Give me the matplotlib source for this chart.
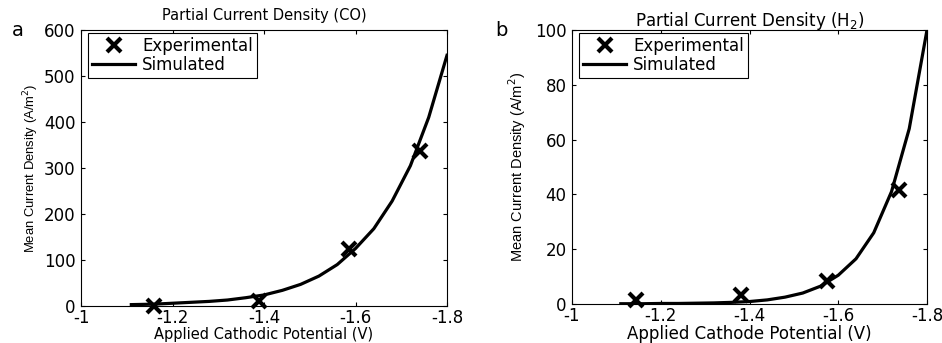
import matplotlib.pyplot as plt

plt.rcParams['font.family'] = ['DejaVu Sans']
plt.rcParams['mathtext.fontset'] = 'dejavusans'

# experimental points
exp_v = [-1.16, -1.39, -1.585, -1.74]
exp_co = [0, 10, 123, 338]
exp_v_h2 = [-1.145, -1.38, -1.575, -1.738]
exp_h2 = [1.6, 3.4, 8.5, 41.5]

# simulated curves
sim_v = [-1.11, -1.16, -1.20, -1.24, -1.28, -1.32, -1.36, -1.40, -1.44,
         -1.48, -1.52, -1.56, -1.60, -1.64, -1.68, -1.72, -1.76, -1.80]
sim_co = [3, 4, 6, 8, 10, 13, 18, 24, 34,
          47, 65, 90, 125, 168, 228, 305, 410, 545]
sim_h2 = [0.1, 0.1, 0.2, 0.2, 0.3, 0.4, 0.6, 0.9, 1.5,
          2.5, 4.0, 6.5, 10.5, 16.5, 26, 41, 64, 100]

x_ticks = [-1, -1.2, -1.4, -1.6, -1.8]
x_labels = ['-1', '-1.2', '-1.4', '-1.6', '-1.8']

narrow = ['Liberation Sans Narrow', 'Liberation Sans', 'DejaVu Sans']


def setup_axis(ax, ymax, yticks):
    ax.set_xlim(-1, -1.8)
    ax.set_ylim(0, ymax)
    ax.set_xticks(x_ticks)
    ax.set_xticklabels(x_labels)
    ax.set_yticks(yticks)
    ax.tick_params(direction='in', top=True, right=True, length=3,
                   labelsize=12, width=0.8)
    ax.tick_params(axis='x', pad=2)
    ax.tick_params(axis='y', pad=4)
    for s in ax.spines.values():
        s.set_linewidth(0.8)


def draw(ax, ev, ey, sy):
    ax.plot(ev, ey, 'x', color='black', markersize=10, markeredgewidth=3,
            label='Experimental', clip_on=False, zorder=3)
    ax.plot(sim_v, sy, '-', color='black', linewidth=2.3, label='Simulated')
    leg = ax.legend(loc='upper left', bbox_to_anchor=(0.019, 0.99),
                    borderaxespad=0, fontsize=12, handlelength=2.6,
                    handletextpad=0.4, fancybox=False, edgecolor='black',
                    framealpha=1, borderpad=0.25, labelspacing=0.08)
    leg.get_frame().set_linewidth(0.8)


fig = plt.figure(figsize=(9.42, 3.43), dpi=100)

ax1 = fig.add_axes([81 / 942, 1 - 306 / 343, 366 / 942, 276 / 343])
draw(ax1, exp_v, exp_co, sim_co)
setup_axis(ax1, 600, [0, 100, 200, 300, 400, 500, 600])
ax1.set_title('Partial Current Density (CO)', fontsize=10.5, pad=7)
ax1.set_xlabel('Applied Cathodic Potential (V)', fontsize=10.5, va='center')
ax1.xaxis.set_label_coords(0.5, (306 - 334) / 276)
ax1.set_ylabel('Mean Current Density (A/m$^2$)', fontsize=9.4,
               family=narrow, labelpad=2)

ax2 = fig.add_axes([572 / 942, 1 - 304 / 343, 355 / 942, 274 / 343])
draw(ax2, exp_v_h2, exp_h2, sim_h2)
setup_axis(ax2, 100, [0, 20, 40, 60, 80, 100])
ax2.set_title('Partial Current Density (H$_2$)', fontsize=12, pad=3)
ax2.set_xlabel('Applied Cathode Potential (V)', fontsize=12, va='center')
ax2.xaxis.set_label_coords(0.5, (304 - 334) / 274)
ax2.set_ylabel('Mean Current Density (A/m$^2$)', fontsize=10.5,
               family=narrow, labelpad=5)

fig.text(12 / 942, 1 - 30 / 343, 'a', fontsize=14, va='center')
fig.text(495 / 942, 1 - 30 / 343, 'b', fontsize=14, va='center')

fig.savefig('out.png', dpi=100)
